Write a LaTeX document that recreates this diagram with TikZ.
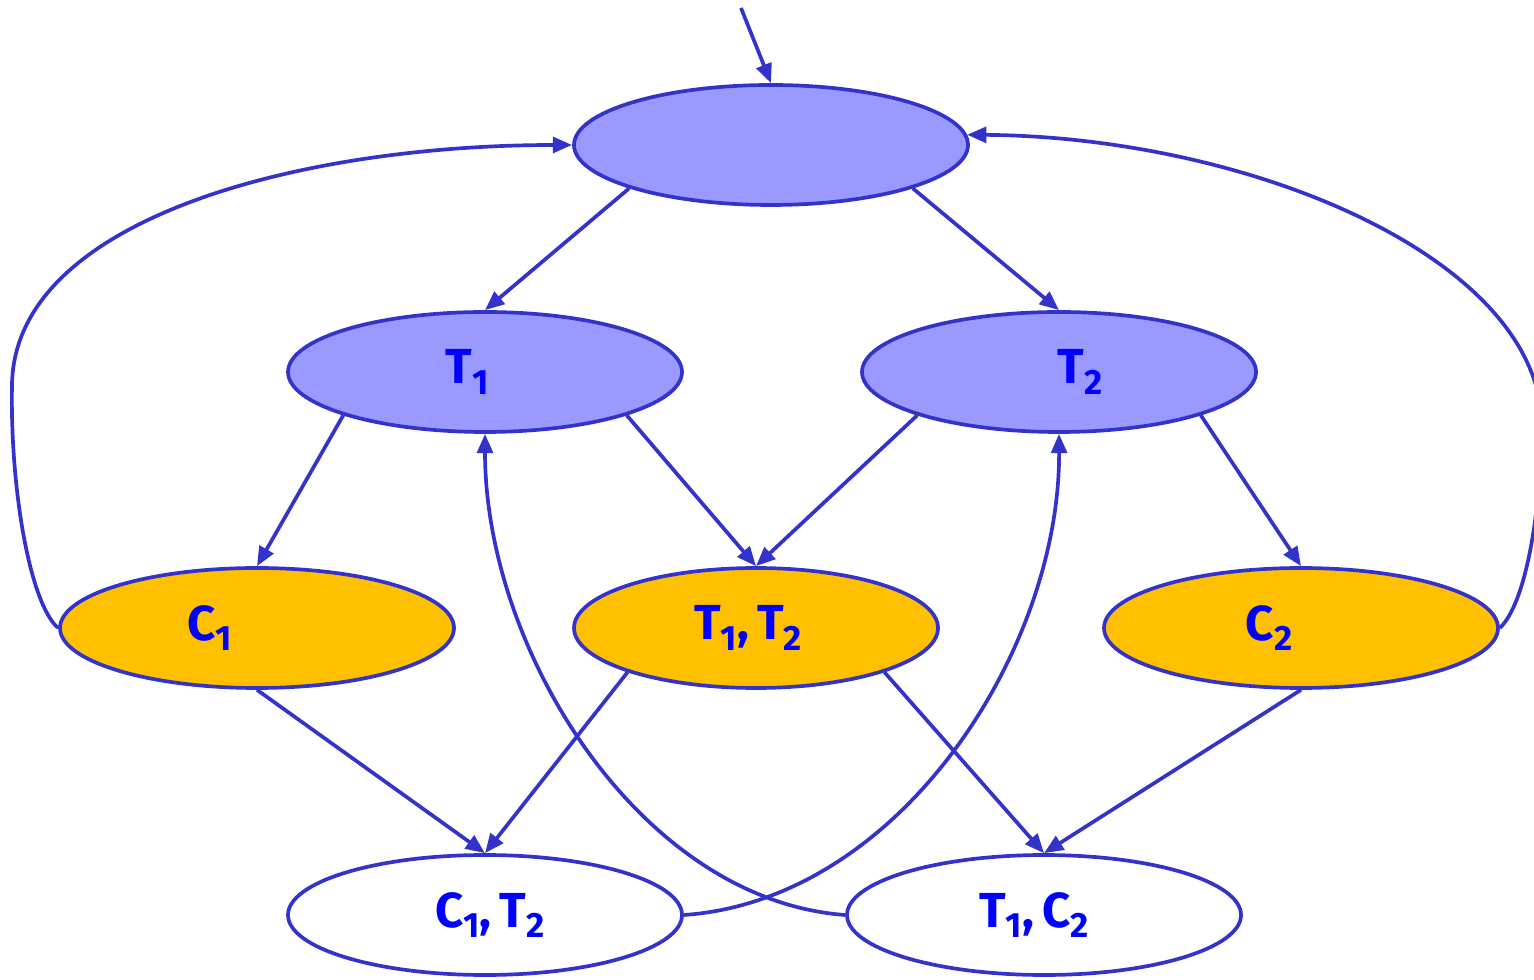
\documentclass[tikz,border=0pt]{standalone}
\usepackage{fontspec}
\setsansfont{Fira Sans}
\usetikzlibrary{arrows.meta,shapes.geometric}
\definecolor{edgeblue}{RGB}{51,51,204}
\definecolor{fillblue}{RGB}{153,153,255}
\definecolor{fillorange}{RGB}{255,192,0}
\definecolor{textblue}{RGB}{0,0,255}
\newcommand{\lsub}[1]{\raisebox{-0.4ex}{\fontsize{10}{10}\selectfont #1}}
\tikzset{
  st/.style={ellipse, draw=edgeblue, line width=1.05pt, inner sep=0pt,
    minimum width=3.94cm, minimum height=1.2cm},
  bluest/.style={st, fill=fillblue},
  orst/.style={st, fill=fillorange},
  whst/.style={st, fill=white},
  lab/.style={text=textblue, font=\sffamily\bfseries\fontsize{14}{16}\selectfont},
  arr/.style={draw=edgeblue, line width=1.05pt, -{Triangle[length=5.5pt,width=4.5pt]}}
}
\begin{document}
\begin{tikzpicture}
\useasboundingbox (0,0) rectangle (15.34,9.79);
\node[bluest] (top) at (7.71,8.34) {};
\node[bluest] (t1) at (4.85,6.07) {};
\node[bluest] (t2) at (10.59,6.07) {};
\node[orst] (c1) at (2.57,3.51) {};
\node[orst, minimum width=3.64cm] (tt) at (7.56,3.51) {};
\node[orst] (c2) at (13.01,3.51) {};
\node[whst] (ct) at (4.85,0.64) {};
\node[whst] (tc) at (10.44,0.64) {};
% labels
\node[lab] (lt1) at (4.67,6.07) {T\lsub{1}};
\node[lab] (lt2) at (10.80,6.07) {T\lsub{2}};
\node[lab] (lc1) at (2.10,3.51) {C\lsub{1}};
\node[lab] (ltt) at (7.48,3.51) {T\lsub{1},\,T\lsub{2}};
\node[lab] (lc2) at (12.69,3.51) {C\lsub{2}};
\node[lab] (lct) at (4.90,0.64) {C\lsub{1},\,T\lsub{2}};
\node[lab] (ltc) at (10.34,0.64) {T\lsub{1},\,C\lsub{2}};
% initial arrow
\coordinate (init) at (7.41,9.71);
\draw[arr] (init) -- (top.north);
% straight edges
\draw[arr] (top.197) -- (t1.north);
\draw[arr] (top.343) -- (t2.north);
\draw[arr] (t1.197) -- (c1.north);
\draw[arr] (t1.343) -- (tt.north);
\draw[arr] (t2.197) -- (tt.north);
\draw[arr] (t2.343) -- (c2.north);
\draw[arr] (c1.south) -- (ct.north);
\draw[arr] (tt.199) -- (ct.north);
\draw[arr] (tt.341) -- (tc.north);
\draw[arr] (c2.south) -- (tc.north);
% curved edges
\coordinate (lw) at (0.12,5.94);
\coordinate (rw) at (15.42,5.5);
\draw[arr] (c1.west) .. controls (0.30,3.75) and (0.10,4.9) .. (lw)
  .. controls (0.14,7.6) and (3.0,8.34) .. (top.west);
\draw[arr] (c2.east) .. controls (15.25,3.75) and (15.40,4.6) .. (rw)
  .. controls (15.44,7.2) and (12.5,8.42) .. (top.3);
\draw[arr] (ct.east) .. controls (9.00,0.79) and (10.60,3.29) .. (t2.south);
\draw[arr] (tc.west) .. controls (6.40,0.79) and (4.85,3.29) .. (t1.south);
\end{tikzpicture}
\end{document}
